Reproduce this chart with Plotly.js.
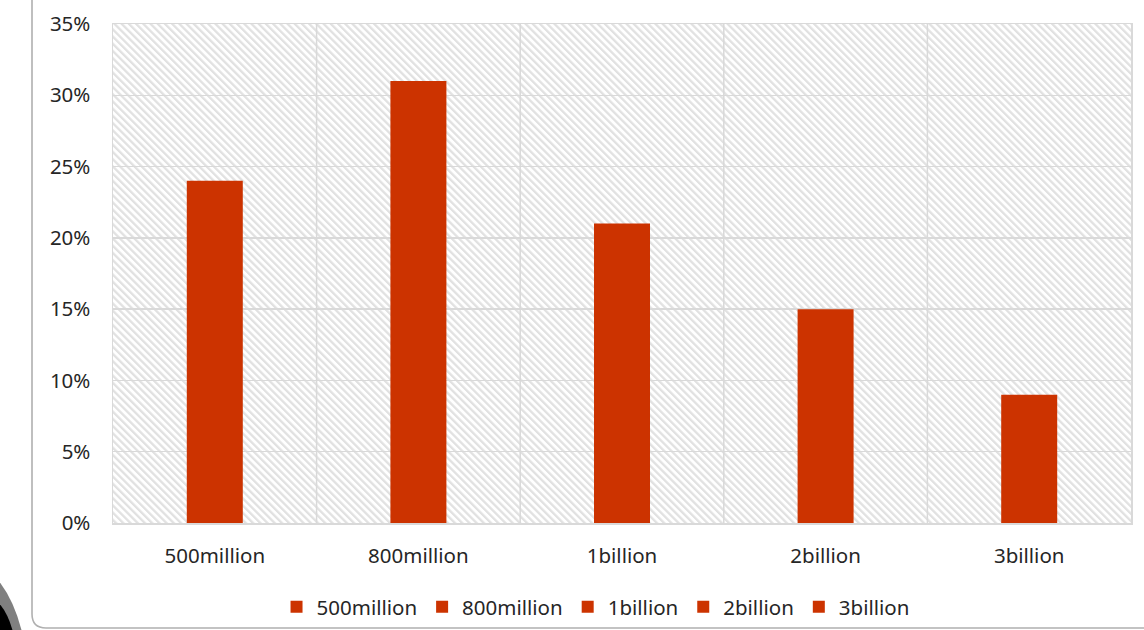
<!DOCTYPE html>
<html>
<head>
<meta charset="utf-8">
<script src="https://cdn.plot.ly/plotly-3.0.1.min.js"></script>
<style>
html,body{margin:0;padding:0;background:#fff;}
#chart{width:1144px;height:630px;}
</style>
</head>
<body>
<div id="chart"></div>
<script>
// ---- data ----
const categories = ["500million", "800million", "1billion", "2billion", "3billion"];
const values = [0.24, 0.31, 0.21, 0.15, 0.09];
const yTickVals = [0, 0.05, 0.10, 0.15, 0.20, 0.25, 0.30, 0.35];
const yTickText = ["0%", "5%", "10%", "15%", "20%", "25%", "30%", "35%"];
const barColor = "#cc3300";

// ---- layout geometry ----
const W = 1144, H = 630;
const M = {l: 113, r: 13, t: 24, b: 107};
const PW = W - M.l - M.r, PH = H - M.t - M.b;
const px = x => (x - M.l) / PW;
const py = y => (H - M.b - y) / PH;

const traces = categories.map((c, i) => ({
  type: "bar",
  name: c,
  x: [c],
  y: [values[i]],
  marker: {color: barColor, line: {width: 0}},
  hoverinfo: "x+y"
}));

// hatched background as an svg pattern image
const hatchSvg =
  '<svg xmlns="http://www.w3.org/2000/svg" width="' + PW + '" height="' + PH + '">' +
  '<defs><pattern id="h" width="5.1" height="5.1" patternUnits="userSpaceOnUse" patternTransform="rotate(-45)">' +
  '<rect x="0" y="0" width="2.3" height="5.1" fill="#e1e1e1"/></pattern></defs>' +
  '<rect width="100%" height="100%" fill="#ffffff"/>' +
  '<rect width="100%" height="100%" fill="url(#h)"/></svg>';
const hatchUri = "data:image/svg+xml;charset=utf-8," + encodeURIComponent(hatchSvg);

const shapes = [];
// vertical category-boundary gridlines
for (let k = 0; k < categories.length - 1; k++) {
  shapes.push({
    type: "line", xref: "x", yref: "paper",
    x0: k + 0.5, x1: k + 0.5, y0: 0, y1: 1,
    line: {color: "#d9d9d9", width: 1.5}, layer: "below"
  });
}
// outer rounded frame (left and bottom edges visible)
shapes.push({
  type: "path", xref: "paper", yref: "paper",
  path: "M " + px(32) + " " + py(-20) +
        " L " + px(32) + " " + py(614) +
        " Q " + px(32) + " " + py(628) + " " + px(46) + " " + py(628) +
        " L " + px(1200) + " " + py(628),
  line: {color: "#b0b0b0", width: 1.6}
});
// dark rounded object at bottom-left corner
shapes.push({
  type: "path", xref: "paper", yref: "paper",
  path: "M " + px(-2) + " " + py(580) +
        " Q " + px(14) + " " + py(600) + " " + px(22) + " " + py(632) +
        " L " + px(-2) + " " + py(632) + " Z",
  fillcolor: "#808080", line: {width: 0}
});
shapes.push({
  type: "path", xref: "paper", yref: "paper",
  path: "M " + px(-2) + " " + py(602) +
        " Q " + px(8) + " " + py(613) + " " + px(13) + " " + py(632) +
        " L " + px(-2) + " " + py(632) + " Z",
  fillcolor: "#000000", line: {width: 0}
});

const font = {family: "Noto Sans, Open Sans, sans-serif", size: 20.5, color: "#262626"};

const layout = {
  width: W, height: H,
  margin: {l: M.l, r: M.r, t: M.t, b: M.b, pad: 0, autoexpand: false},
  paper_bgcolor: "#ffffff",
  plot_bgcolor: "rgba(0,0,0,0)",
  font: font,
  barmode: "overlay",
  bargap: 0.725,
  showlegend: true,
  legend: {
    orientation: "h", x: 0.474, xanchor: "center", y: py(607), yanchor: "middle",
    font: font, itemclick: false, tracegroupgap: 0, itemwidth: 30
  },
  xaxis: {
    type: "category",
    categoryorder: "array", categoryarray: categories,
    range: [-0.5, categories.length - 0.5],
    showgrid: false, zeroline: false,
    showline: true, mirror: true, linecolor: "#d9d9d9", linewidth: 1.5,
    ticks: "", ticklabelstandoff: 14,
    tickfont: font, automargin: false
  },
  yaxis: {
    range: [0, 0.35],
    tickvals: yTickVals, ticktext: yTickText,
    showgrid: true, gridcolor: "#d9d9d9", gridwidth: 1.5,
    zeroline: false,
    showline: true, mirror: true, linecolor: "#d9d9d9", linewidth: 1.5,
    ticks: "", ticklabelstandoff: 17,
    tickfont: font, automargin: false
  },
  images: [{
    source: hatchUri, xref: "paper", yref: "paper",
    x: 0, y: 1, sizex: 1, sizey: 1, xanchor: "left", yanchor: "top",
    sizing: "stretch", layer: "below"
  }],
  shapes: shapes
};

Plotly.newPlot("chart", traces, layout, {displayModeBar: false, staticPlot: true});
</script>
</body>
</html>
